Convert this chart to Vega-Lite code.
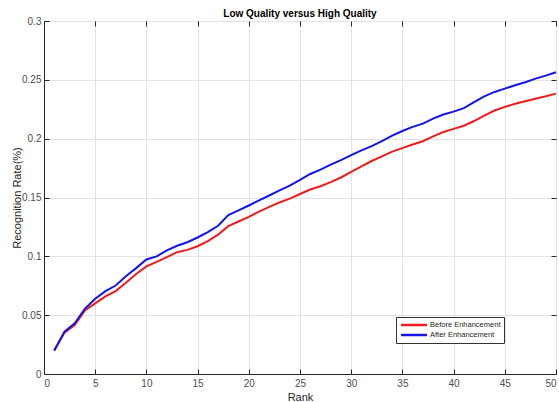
{
  "$schema": "https://vega.github.io/schema/vega-lite/v6.json",
  "autosize": "none",
  "width": 512,
  "height": 353,
  "padding": {"left": 44, "top": 21, "right": 3, "bottom": 28},
  "background": "white",
  "title": {"text": "Low Quality versus High Quality", "fontSize": 10, "fontWeight": "bold", "font": "Liberation Sans", "color": "#000000", "offset": -3, "anchor": "middle"},
  "datasets": {
    "curves": [
      {"rank": 1, "rate": 0.020, "series": "Before Enhancement"},
      {"rank": 2, "rate": 0.035, "series": "Before Enhancement"},
      {"rank": 3, "rate": 0.0415, "series": "Before Enhancement"},
      {"rank": 4, "rate": 0.054, "series": "Before Enhancement"},
      {"rank": 5, "rate": 0.060, "series": "Before Enhancement"},
      {"rank": 6, "rate": 0.066, "series": "Before Enhancement"},
      {"rank": 7, "rate": 0.0705, "series": "Before Enhancement"},
      {"rank": 8, "rate": 0.0775, "series": "Before Enhancement"},
      {"rank": 9, "rate": 0.085, "series": "Before Enhancement"},
      {"rank": 10, "rate": 0.0915, "series": "Before Enhancement"},
      {"rank": 11, "rate": 0.0953, "series": "Before Enhancement"},
      {"rank": 12, "rate": 0.0993, "series": "Before Enhancement"},
      {"rank": 13, "rate": 0.1035, "series": "Before Enhancement"},
      {"rank": 14, "rate": 0.1055, "series": "Before Enhancement"},
      {"rank": 15, "rate": 0.1086, "series": "Before Enhancement"},
      {"rank": 16, "rate": 0.113, "series": "Before Enhancement"},
      {"rank": 17, "rate": 0.1185, "series": "Before Enhancement"},
      {"rank": 18, "rate": 0.1256, "series": "Before Enhancement"},
      {"rank": 19, "rate": 0.1296, "series": "Before Enhancement"},
      {"rank": 20, "rate": 0.1335, "series": "Before Enhancement"},
      {"rank": 21, "rate": 0.138, "series": "Before Enhancement"},
      {"rank": 22, "rate": 0.142, "series": "Before Enhancement"},
      {"rank": 23, "rate": 0.1458, "series": "Before Enhancement"},
      {"rank": 24, "rate": 0.149, "series": "Before Enhancement"},
      {"rank": 25, "rate": 0.153, "series": "Before Enhancement"},
      {"rank": 26, "rate": 0.1568, "series": "Before Enhancement"},
      {"rank": 27, "rate": 0.1596, "series": "Before Enhancement"},
      {"rank": 28, "rate": 0.163, "series": "Before Enhancement"},
      {"rank": 29, "rate": 0.167, "series": "Before Enhancement"},
      {"rank": 30, "rate": 0.1718, "series": "Before Enhancement"},
      {"rank": 31, "rate": 0.1765, "series": "Before Enhancement"},
      {"rank": 32, "rate": 0.181, "series": "Before Enhancement"},
      {"rank": 33, "rate": 0.185, "series": "Before Enhancement"},
      {"rank": 34, "rate": 0.189, "series": "Before Enhancement"},
      {"rank": 35, "rate": 0.192, "series": "Before Enhancement"},
      {"rank": 36, "rate": 0.195, "series": "Before Enhancement"},
      {"rank": 37, "rate": 0.1978, "series": "Before Enhancement"},
      {"rank": 38, "rate": 0.202, "series": "Before Enhancement"},
      {"rank": 39, "rate": 0.2057, "series": "Before Enhancement"},
      {"rank": 40, "rate": 0.2083, "series": "Before Enhancement"},
      {"rank": 41, "rate": 0.211, "series": "Before Enhancement"},
      {"rank": 42, "rate": 0.215, "series": "Before Enhancement"},
      {"rank": 43, "rate": 0.2196, "series": "Before Enhancement"},
      {"rank": 44, "rate": 0.2239, "series": "Before Enhancement"},
      {"rank": 45, "rate": 0.227, "series": "Before Enhancement"},
      {"rank": 46, "rate": 0.2296, "series": "Before Enhancement"},
      {"rank": 47, "rate": 0.2318, "series": "Before Enhancement"},
      {"rank": 48, "rate": 0.234, "series": "Before Enhancement"},
      {"rank": 49, "rate": 0.236, "series": "Before Enhancement"},
      {"rank": 50, "rate": 0.2383, "series": "Before Enhancement"},
      {"rank": 1, "rate": 0.020, "series": "After Enhancement"},
      {"rank": 2, "rate": 0.036, "series": "After Enhancement"},
      {"rank": 3, "rate": 0.043, "series": "After Enhancement"},
      {"rank": 4, "rate": 0.0555, "series": "After Enhancement"},
      {"rank": 5, "rate": 0.0639, "series": "After Enhancement"},
      {"rank": 6, "rate": 0.0704, "series": "After Enhancement"},
      {"rank": 7, "rate": 0.0752, "series": "After Enhancement"},
      {"rank": 8, "rate": 0.083, "series": "After Enhancement"},
      {"rank": 9, "rate": 0.090, "series": "After Enhancement"},
      {"rank": 10, "rate": 0.0973, "series": "After Enhancement"},
      {"rank": 11, "rate": 0.1, "series": "After Enhancement"},
      {"rank": 12, "rate": 0.105, "series": "After Enhancement"},
      {"rank": 13, "rate": 0.109, "series": "After Enhancement"},
      {"rank": 14, "rate": 0.112, "series": "After Enhancement"},
      {"rank": 15, "rate": 0.116, "series": "After Enhancement"},
      {"rank": 16, "rate": 0.1205, "series": "After Enhancement"},
      {"rank": 17, "rate": 0.126, "series": "After Enhancement"},
      {"rank": 18, "rate": 0.135, "series": "After Enhancement"},
      {"rank": 19, "rate": 0.139, "series": "After Enhancement"},
      {"rank": 20, "rate": 0.1432, "series": "After Enhancement"},
      {"rank": 21, "rate": 0.1475, "series": "After Enhancement"},
      {"rank": 22, "rate": 0.1517, "series": "After Enhancement"},
      {"rank": 23, "rate": 0.156, "series": "After Enhancement"},
      {"rank": 24, "rate": 0.160, "series": "After Enhancement"},
      {"rank": 25, "rate": 0.165, "series": "After Enhancement"},
      {"rank": 26, "rate": 0.170, "series": "After Enhancement"},
      {"rank": 27, "rate": 0.1737, "series": "After Enhancement"},
      {"rank": 28, "rate": 0.178, "series": "After Enhancement"},
      {"rank": 29, "rate": 0.1817, "series": "After Enhancement"},
      {"rank": 30, "rate": 0.186, "series": "After Enhancement"},
      {"rank": 31, "rate": 0.190, "series": "After Enhancement"},
      {"rank": 32, "rate": 0.1936, "series": "After Enhancement"},
      {"rank": 33, "rate": 0.198, "series": "After Enhancement"},
      {"rank": 34, "rate": 0.2026, "series": "After Enhancement"},
      {"rank": 35, "rate": 0.2065, "series": "After Enhancement"},
      {"rank": 36, "rate": 0.210, "series": "After Enhancement"},
      {"rank": 37, "rate": 0.2128, "series": "After Enhancement"},
      {"rank": 38, "rate": 0.217, "series": "After Enhancement"},
      {"rank": 39, "rate": 0.2205, "series": "After Enhancement"},
      {"rank": 40, "rate": 0.223, "series": "After Enhancement"},
      {"rank": 41, "rate": 0.226, "series": "After Enhancement"},
      {"rank": 42, "rate": 0.231, "series": "After Enhancement"},
      {"rank": 43, "rate": 0.236, "series": "After Enhancement"},
      {"rank": 44, "rate": 0.2397, "series": "After Enhancement"},
      {"rank": 45, "rate": 0.2425, "series": "After Enhancement"},
      {"rank": 46, "rate": 0.2454, "series": "After Enhancement"},
      {"rank": 47, "rate": 0.248, "series": "After Enhancement"},
      {"rank": 48, "rate": 0.251, "series": "After Enhancement"},
      {"rank": 49, "rate": 0.2536, "series": "After Enhancement"},
      {"rank": 50, "rate": 0.2564, "series": "After Enhancement"}
    ]
  },
  "data": {"name": "curves"},
  "layer": [
    {
      "mark": {"type": "line", "opacity": 0},
      "encoding": {
        "x": {"field": "rank", "type": "quantitative", "scale": {"domain": [0, 50], "nice": false},
              "axis": {"orient": "top", "labels": false, "grid": false, "title": null, "domain": false, "ticks": true, "tickCount": 10, "tickSize": -5, "tickWidth": 1, "tickColor": "#262626"}},
        "y": {"field": "rate", "type": "quantitative", "scale": {"domain": [0, 0.3], "nice": false},
              "axis": {"orient": "right", "labels": false, "grid": false, "title": null, "domain": false, "ticks": true, "tickCount": 6, "tickSize": -5, "tickWidth": 1, "tickColor": "#262626"}},
        "detail": {"field": "series"}
      }
    },
    {
      "mark": {"type": "line", "strokeWidth": 2},
      "encoding": {
        "x": {"field": "rank", "type": "quantitative", "scale": {"domain": [0, 50], "nice": false},
              "axis": {"orient": "bottom", "title": "Rank", "grid": true, "ticks": true, "tickCount": 10, "tickSize": -5, "tickWidth": 1, "labelPadding": 9, "titlePadding": 3}},
        "y": {"field": "rate", "type": "quantitative", "scale": {"domain": [0, 0.3], "nice": false},
              "axis": {"orient": "left", "title": "Recognition Rate(%)", "grid": true, "ticks": true, "tickCount": 6, "tickSize": -5, "tickWidth": 1, "labelPadding": 8, "titleX": -27, "titleBaseline": "middle", "format": "~g"}},
        "color": {
          "field": "series", "type": "nominal",
          "scale": {"domain": ["Before Enhancement", "After Enhancement"], "range": ["#ee1c1c", "#1414e6"]},
          "legend": {
            "title": null, "orient": "none", "legendX": 352, "legendY": 296,
            "symbolType": "M-3.7,0H3.7", "symbolSize": 49, "symbolStrokeWidth": 2.5, "symbolOffset": 10,
            "labelFontSize": 7.5, "labelFont": "Liberation Sans", "labelColor": "#262626",
            "strokeColor": "#333333", "fillColor": "white", "padding": 3, "rowPadding": 0, "labelOffset": 11
          }
        }
      }
    }
  ],
  "resolve": {"axis": {"x": "independent", "y": "independent"}},
  "config": {
    "view": {"stroke": "#262626", "strokeWidth": 1},
    "axis": {
      "labelFont": "Liberation Sans", "labelFontSize": 10, "labelColor": "#4d4d4d",
      "titleFont": "Liberation Sans", "titleFontSize": 11, "titleFontWeight": "normal", "titleColor": "#262626",
      "domainColor": "#262626", "tickColor": "#262626",
      "gridColor": "#e3e3e3", "gridWidth": 1
    }
  }
}
